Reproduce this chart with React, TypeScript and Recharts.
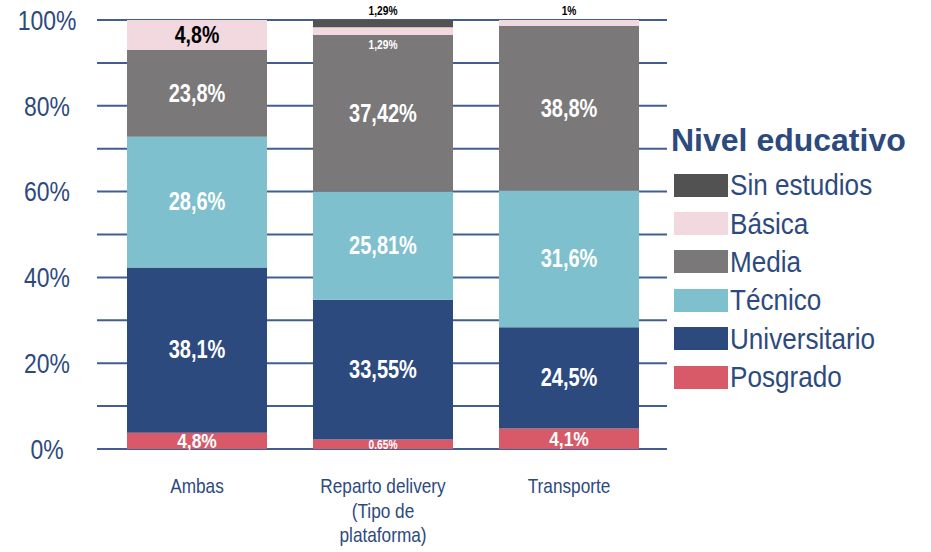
import React from "react";
import { BarChart, Bar, XAxis, YAxis, CartesianGrid, LabelList, Legend } from "recharts";

const categories = ["Ambas", "Reparto delivery\n(Tipo de\nplataforma)", "Transporte"];

const posgrado = [3.8, 2.2, 4.8];
const universitario = [38.5, 32.6, 23.6];
const tecnico = [30.5, 25.2, 31.8];
const media = [20.2, 36.5, 38.4];
const basica = [7.0, 1.8, 1.4];
const sinEstudios = [0, 1.7, 0];

const posgradoLabels = ["4,8%", "0.65%", "4,1%"];
const universitarioLabels = ["38,1%", "33,55%", "24,5%"];
const tecnicoLabels = ["28,6%", "25,81%", "31,6%"];
const mediaLabels = ["23,8%", "37,42%", "38,8%"];
const basicaLabels = ["4,8%", "1,29%", "1%"];
const sinEstudiosLabels = ["", "1,29%", ""];

const yTicks = [0, 10, 20, 30, 40, 50, 60, 70, 80, 90, 100];

const legendTitle = "Nivel educativo";

const FONT = "'Liberation Sans', Arial, sans-serif";
const BLUE = "#2D4A7E";

const series = [
  { key: "posgrado", name: "Posgrado", color: "#D85A69", values: posgrado, labels: posgradoLabels },
  { key: "universitario", name: "Universitario", color: "#2C4A7E", values: universitario, labels: universitarioLabels },
  { key: "tecnico", name: "Técnico", color: "#7EC0CD", values: tecnico, labels: tecnicoLabels },
  { key: "media", name: "Media", color: "#7A7879", values: media, labels: mediaLabels },
  { key: "basica", name: "Básica", color: "#F1D9DF", values: basica, labels: basicaLabels },
  { key: "sin", name: "Sin estudios", color: "#525252", values: sinEstudios, labels: sinEstudiosLabels },
];

const data = categories.map((c, i) => {
  const row: any = { category: c };
  series.forEach((s) => {
    row[s.key] = s.values[i];
    row[s.key + "Label"] = s.labels[i];
  });
  return row;
});

const NText = ({ x, y, sx, children, ...rest }: any) => (
  <text transform={`translate(${x},${y}) scale(${sx},1)`} x={0} y={0} {...rest}>
    {children}
  </text>
);

const makeLabel = (seriesKey: string) => (props: any) => {
  const { x, y, width, height, index, value } = props;
  const text = value;
  if (!text) return null;
  const cx = Number(x) + Number(width) / 2;
  let cy = Number(y) + Number(height) / 2;
  let fill = "#ffffff";
  let size = 25;
  let sx = 0.8;
  if (seriesKey === "posgrado") {
    if (index === 1) {
      size = 12;
      sx = 0.85;
    } else {
      size = 21;
      sx = 0.83;
    }
  }
  if (seriesKey === "basica") {
    if (Number(height) > 15) {
      fill = "#000000";
      size = 23;
      sx = 0.85;
    } else if (index === 1) {
      size = 12;
      sx = 0.85;
      cy = Number(y) + Number(height) + 10;
    } else {
      fill = "#000000";
      size = 12;
      sx = 0.85;
      cy = Number(y) - 9;
    }
  }
  if (seriesKey === "sin") {
    fill = "#000000";
    size = 12;
    sx = 0.85;
    cy = Number(y) - 9;
  }
  return (
    <NText
      x={cx}
      y={cy}
      sx={sx}
      textAnchor="middle"
      dominantBaseline="central"
      fill={fill}
      fontFamily={FONT}
      fontWeight="bold"
      fontSize={size}
    >
      {text}
    </NText>
  );
};

const YTick = (props: any) => {
  const { x, y, payload } = props;
  if (payload.value % 20 !== 0) return null;
  return (
    <NText
      x={x - 42}
      y={y}
      sx={0.82}
      textAnchor="middle"
      dominantBaseline="central"
      fill={BLUE}
      fontFamily={FONT}
      fontSize={28}
    >
      {payload.value + "%"}
    </NText>
  );
};

const XTick = (props: any) => {
  const { x, y, payload } = props;
  const lines = String(payload.value).split("\n");
  return (
    <g>
      {lines.map((l: string, i: number) => (
        <NText
          key={i}
          x={x}
          y={y + 36 + i * 24.5}
          sx={0.82}
          textAnchor="middle"
          fill={BLUE}
          fontFamily={FONT}
          fontSize={21}
        >
          {l}
        </NText>
      ))}
    </g>
  );
};

const LegendContent = () => {
  const items = [...series].reverse();
  return (
    <div style={{ position: "relative", width: 0, height: 0 }}>
      <div style={{ position: "absolute", left: 671, top: 114, width: 260, fontFamily: FONT, color: BLUE }}>
        <div
          style={{
            fontWeight: "bold",
            fontSize: 32,
            lineHeight: "52px",
            whiteSpace: "nowrap",
          }}
        >
          {legendTitle}
        </div>
        {items.map((s) => (
          <div key={s.key} style={{ display: "flex", alignItems: "center", height: 38.4 }}>
            <div style={{ width: 54, height: 23, background: s.color, marginLeft: 3, flex: "none" }} />
            <div
              style={{
                fontSize: 30,
                marginLeft: 2,
                lineHeight: "30px",
                whiteSpace: "nowrap",
                transform: "scaleX(0.87)",
                transformOrigin: "left center",
              }}
            >
              {s.name}
            </div>
          </div>
        ))}
      </div>
    </div>
  );
};

export default function App() {
  return (
    <div style={{ position: "absolute", left: 0, top: 0, background: "#fff" }}>
      <BarChart
        width={931}
        height={552}
        data={data}
        margin={{ top: 20, right: 264, bottom: 13, left: 0 }}
        barSize={140}
      >
        <CartesianGrid horizontal={true} vertical={false} stroke="#2F4B85" strokeWidth={2} strokeOpacity={0.9} />
        <XAxis
          dataKey="category"
          axisLine={false}
          tickLine={false}
          height={90}
          interval={0}
          padding={{ left: 7, right: 5 }}
          tick={<XTick />}
        />
        <YAxis
          domain={[0, 100]}
          ticks={yTicks}
          axisLine={false}
          tickLine={false}
          width={97}
          interval={0}
          tick={<YTick />}
        />
        <Legend
          content={<LegendContent />}
          wrapperStyle={{ left: 0, top: 0, width: 0, height: 0 }}
        />
        {series.map((s) => (
          <Bar key={s.key} dataKey={s.key} name={s.name} stackId="a" fill={s.color} isAnimationActive={false}>
            <LabelList dataKey={s.key + "Label"} content={makeLabel(s.key)} />
          </Bar>
        ))}
      </BarChart>
    </div>
  );
}
